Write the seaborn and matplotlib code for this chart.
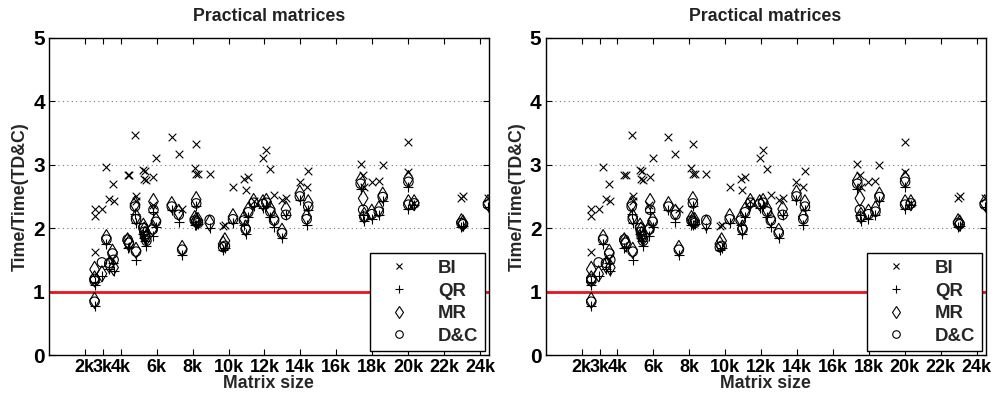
import matplotlib
matplotlib.use("Agg")
import matplotlib.pyplot as plt
import seaborn as sns
import pandas as pd
from matplotlib.lines import Line2D

# ---- data (matrix size in thousands, time ratio vs TD&C) ----
sizes_k = [2.54, 2.54, 2.54, 2.95, 3.20, 3.36, 3.54, 3.60, 4.38, 4.45,
           4.79, 4.85, 4.85, 5.26, 5.31, 5.35, 5.43, 5.78, 5.82, 5.96,
           6.84, 7.23, 7.42, 8.12, 8.20, 8.20, 8.30, 8.95, 9.70, 9.80,
           10.25, 10.86, 10.96, 11.10, 11.40, 11.92, 12.11, 12.33, 12.54, 12.98,
           13.20, 13.97, 14.35, 14.44, 17.36, 17.50, 17.56, 17.98, 18.37, 18.59,
           20.02, 20.02, 20.34, 22.97, 23.06, 24.45]
bi = [1.63, 2.19, 2.30, 2.30, 2.97, 2.46, 2.70, 2.43, 2.84, 2.84,
      3.47, 2.51, 2.42, 2.92, 2.77, 2.90, 2.76, 2.36, 2.81, 3.10,
      3.44, 3.17, 2.30, 2.94, 3.32, 2.85, 2.86, 2.85, 2.04, 2.05,
      2.65, 2.78, 2.60, 2.81, 2.42, 3.11, 3.23, 2.93, 2.53, 2.44,
      2.48, 2.72, 2.65, 2.90, 3.01, 2.83, 2.65, 2.72, 2.74, 2.99,
      3.35, 2.88, 2.40, 2.47, 2.50, 2.47]
qr = [0.78, 1.10, 1.15, 1.24, 1.75, 1.35, 1.45, 1.32, 1.68, 1.70,
      2.22, 2.08, 1.50, 1.90, 1.85, 1.80, 1.72, 1.88, 2.25, 2.02,
      2.28, 2.10, 1.58, 2.05, 2.35, 2.05, 2.06, 2.00, 1.66, 1.68,
      2.08, 2.05, 1.90, 2.18, 2.35, 2.32, 2.35, 2.18, 2.02, 1.84,
      2.20, 2.45, 2.05, 2.28, 2.62, 2.20, 2.12, 2.15, 2.20, 2.42,
      2.65, 2.30, 2.36, 2.02, 2.04, 2.33]
mr = [0.86, 1.20, 1.35, 1.28, 1.85, 1.42, 1.62, 1.38, 1.80, 1.76,
      2.38, 2.18, 1.65, 2.03, 1.97, 1.90, 1.85, 2.00, 2.42, 2.12,
      2.37, 2.25, 1.68, 2.15, 2.45, 2.12, 2.12, 2.08, 1.75, 1.80,
      2.18, 2.15, 2.00, 2.28, 2.42, 2.40, 2.42, 2.30, 2.15, 1.95,
      2.30, 2.55, 2.18, 2.40, 2.75, 2.47, 2.20, 2.25, 2.30, 2.52,
      2.78, 2.40, 2.40, 2.10, 2.08, 2.40]
dc = [0.84, 1.17, 1.20, 1.46, 1.82, 1.45, 1.60, 1.50, 1.82, 1.77,
      2.34, 2.14, 1.63, 2.00, 1.94, 1.87, 1.80, 1.98, 2.29, 2.10,
      2.34, 2.21, 1.66, 2.12, 2.39, 2.10, 2.08, 2.13, 1.70, 1.72,
      2.14, 2.12, 1.98, 2.25, 2.40, 2.38, 2.40, 2.26, 2.12, 1.92,
      2.21, 2.50, 2.14, 2.34, 2.70, 2.29, 2.18, 2.22, 2.26, 2.49,
      2.73, 2.37, 2.39, 2.08, 2.06, 2.37]
methods = ["BI", "QR", "MR", "D&C"]
xticks_k = [2, 3, 4, 6, 8, 10, 12, 14, 16, 18, 20, 22, 24]
xtick_labels = ["2k", "3k", "4k", "6k", "8k", "10k", "12k", "14k", "16k",
                "18k", "20k", "22k", "24k"]
yticks = [0, 1, 2, 3, 4, 5]
panel_titles = ["Practical matrices", "Practical matrices"]

df = pd.DataFrame({
    "size": sizes_k * 4,
    "ratio": bi + qr + mr + dc,
    "method": [m for m in methods for _ in sizes_k],
})

sns.set_style("ticks")
plt.rcParams["font.family"] = ["Liberation Sans", "DejaVu Sans"]
plt.rcParams["font.weight"] = "bold"
FS = 12.8

style = {
    "BI":  dict(marker="x", ms=5.5, filled=False),
    "QR":  dict(marker="+", ms=7.0, filled=False),
    "MR":  dict(marker="d", ms=8.2, filled=True),
    "D&C": dict(marker="o", ms=6.8, filled=True),
}

fig = plt.figure(figsize=(9.93, 3.98), dpi=100)
axes = [fig.add_axes([0.0493, 0.108, 0.443, 0.797]),
        fig.add_axes([0.5495, 0.108, 0.443, 0.797])]

for ax, title in zip(axes, panel_titles):
    for y in [1, 2, 3, 4]:
        ax.axhline(y, color="#777777", lw=0.8, ls=(0, (1, 3)), zorder=0.5)
    for m in methods:
        st = style[m]
        sub = df[df["method"] == m]
        if st["filled"]:
            sns.scatterplot(data=sub, x="size", y="ratio", marker=st["marker"],
                            s=st["ms"] ** 2, facecolor="none", edgecolor="black",
                            linewidth=0.8, ax=ax, legend=False, zorder=3)
        else:
            sns.scatterplot(data=sub, x="size", y="ratio", marker=st["marker"],
                            s=st["ms"] ** 2, color="black",
                            linewidth=0.8, ax=ax, legend=False, zorder=3)
    ax.axhline(1, color="#e8141b", lw=2.0, zorder=2)

    ax.set_xlim(0, 24.5)
    ax.set_ylim(0, 5)
    ax.set_xticks(xticks_k)
    ax.set_xticklabels(xtick_labels, fontsize=13, fontweight="bold")
    ax.set_yticks(yticks)
    ax.set_yticklabels([str(v) for v in yticks], fontsize=15, fontweight="bold")
    ax.tick_params(direction="in", top=True, right=True, length=4, width=0.8,
                   pad=3, colors="black")
    for sp in ax.spines.values():
        sp.set_visible(True)
        sp.set_color("black")
        sp.set_linewidth(1.0)
    ax.set_xlabel("Matrix size", fontsize=FS, fontweight="bold", labelpad=-1)
    ax.set_ylabel("Time/Time(TD&C)", fontsize=FS, fontweight="bold", labelpad=3)
    ax.set_title(title, fontsize=FS, fontweight="bold", pad=12, color="#222222")

    handles = [Line2D([], [], linestyle="none", marker=style[m]["marker"],
                      markersize=style[m]["ms"] * 0.8, color="black",
                      markerfacecolor="none", markeredgewidth=0.8)
               for m in methods]
    leg = ax.legend(handles, methods, loc="lower right", frameon=True,
                    fancybox=False, framealpha=1, edgecolor="black",
                    prop={"size": FS + 0.6, "weight": "bold"},
                    borderaxespad=0.2, borderpad=0.35, handlelength=2.4,
                    handletextpad=0.9, labelspacing=0.3)
    leg.get_frame().set_linewidth(1.0)

fig.savefig("out.png", dpi=100)
